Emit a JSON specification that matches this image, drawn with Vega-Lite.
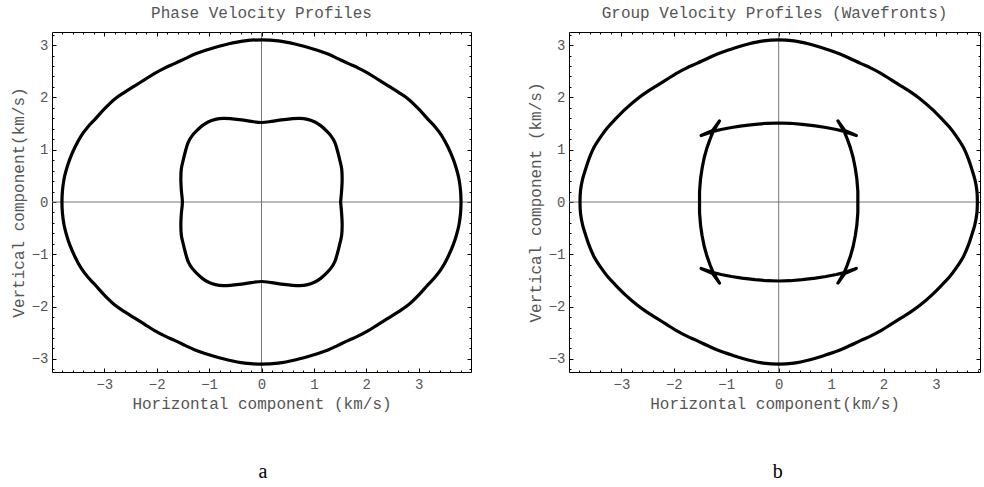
{
  "$schema": "https://vega.github.io/schema/vega-lite/v6.json",
  "padding": {"left": 9, "top": 4, "right": 0, "bottom": 0},
  "background": "white",
  "config": {
    "font": "Liberation Mono",
    "view": {"stroke": "black", "strokeWidth": 1},
    "axis": {"labelFont": "Liberation Mono", "labelFontSize": 14, "labelColor": "#555", "titleFont": "Liberation Mono", "titleFontSize": 16, "titleColor": "#555", "titleFontWeight": "normal", "tickColor": "black", "grid": false, "domain": false, "labelOverlap": false},
    "title": {"font": "Liberation Mono", "fontSize": 16, "fontWeight": "normal", "color": "#555"},
    "concat": {"spacing": 54}
  },
  "datasets": {
    "phase": [
      {"c":"outer","x":3.81,"y":0},{"c":"outer","x":3.80,"y":0.22},{"c":"outer","x":3.77,"y":0.44},{"c":"outer","x":3.72,"y":0.64},{"c":"outer","x":3.66,"y":0.82},{"c":"outer","x":3.56,"y":1.05},{"c":"outer","x":3.44,"y":1.27},{"c":"outer","x":3.32,"y":1.43},{"c":"outer","x":3.18,"y":1.58},{"c":"outer","x":3.00,"y":1.78},{"c":"outer","x":2.80,"y":1.97},{"c":"outer","x":2.61,"y":2.10},{"c":"outer","x":2.42,"y":2.22},{"c":"outer","x":2.23,"y":2.34},{"c":"outer","x":2.04,"y":2.46},{"c":"outer","x":1.85,"y":2.56},{"c":"outer","x":1.65,"y":2.65},{"c":"outer","x":1.46,"y":2.74},{"c":"outer","x":1.27,"y":2.83},{"c":"outer","x":0.97,"y":2.93},{"c":"outer","x":0.64,"y":3.02},{"c":"outer","x":0.32,"y":3.08},{"c":"outer","x":0,"y":3.10},
      {"c":"outer","x":-0.32,"y":3.08},{"c":"outer","x":-0.64,"y":3.02},{"c":"outer","x":-0.97,"y":2.93},{"c":"outer","x":-1.27,"y":2.83},{"c":"outer","x":-1.46,"y":2.74},{"c":"outer","x":-1.65,"y":2.65},{"c":"outer","x":-1.85,"y":2.56},{"c":"outer","x":-2.04,"y":2.46},{"c":"outer","x":-2.23,"y":2.34},{"c":"outer","x":-2.42,"y":2.22},{"c":"outer","x":-2.61,"y":2.10},{"c":"outer","x":-2.80,"y":1.97},{"c":"outer","x":-3.00,"y":1.78},{"c":"outer","x":-3.18,"y":1.58},{"c":"outer","x":-3.32,"y":1.43},{"c":"outer","x":-3.44,"y":1.27},{"c":"outer","x":-3.56,"y":1.05},{"c":"outer","x":-3.66,"y":0.82},{"c":"outer","x":-3.72,"y":0.64},{"c":"outer","x":-3.77,"y":0.44},{"c":"outer","x":-3.80,"y":0.22},{"c":"outer","x":-3.81,"y":0},
      {"c":"outer","x":-3.80,"y":-0.22},{"c":"outer","x":-3.77,"y":-0.44},{"c":"outer","x":-3.72,"y":-0.64},{"c":"outer","x":-3.66,"y":-0.82},{"c":"outer","x":-3.56,"y":-1.05},{"c":"outer","x":-3.44,"y":-1.27},{"c":"outer","x":-3.32,"y":-1.43},{"c":"outer","x":-3.18,"y":-1.58},{"c":"outer","x":-3.00,"y":-1.78},{"c":"outer","x":-2.80,"y":-1.97},{"c":"outer","x":-2.61,"y":-2.10},{"c":"outer","x":-2.42,"y":-2.22},{"c":"outer","x":-2.23,"y":-2.34},{"c":"outer","x":-2.04,"y":-2.46},{"c":"outer","x":-1.85,"y":-2.56},{"c":"outer","x":-1.65,"y":-2.65},{"c":"outer","x":-1.46,"y":-2.74},{"c":"outer","x":-1.27,"y":-2.83},{"c":"outer","x":-0.97,"y":-2.93},{"c":"outer","x":-0.64,"y":-3.02},{"c":"outer","x":-0.32,"y":-3.08},{"c":"outer","x":0,"y":-3.10},
      {"c":"outer","x":0.32,"y":-3.08},{"c":"outer","x":0.64,"y":-3.02},{"c":"outer","x":0.97,"y":-2.93},{"c":"outer","x":1.27,"y":-2.83},{"c":"outer","x":1.46,"y":-2.74},{"c":"outer","x":1.65,"y":-2.65},{"c":"outer","x":1.85,"y":-2.56},{"c":"outer","x":2.04,"y":-2.46},{"c":"outer","x":2.23,"y":-2.34},{"c":"outer","x":2.42,"y":-2.22},{"c":"outer","x":2.61,"y":-2.10},{"c":"outer","x":2.80,"y":-1.97},{"c":"outer","x":3.00,"y":-1.78},{"c":"outer","x":3.18,"y":-1.58},{"c":"outer","x":3.32,"y":-1.43},{"c":"outer","x":3.44,"y":-1.27},{"c":"outer","x":3.56,"y":-1.05},{"c":"outer","x":3.66,"y":-0.82},{"c":"outer","x":3.72,"y":-0.64},{"c":"outer","x":3.77,"y":-0.44},{"c":"outer","x":3.80,"y":-0.22},{"c":"outer","x":3.81,"y":0},
      {"c":"inner","x":1.51,"y":0},{"c":"inner","x":1.53,"y":0.22},{"c":"inner","x":1.54,"y":0.44},{"c":"inner","x":1.53,"y":0.64},{"c":"inner","x":1.49,"y":0.82},{"c":"inner","x":1.45,"y":0.98},{"c":"inner","x":1.40,"y":1.14},{"c":"inner","x":1.33,"y":1.26},{"c":"inner","x":1.24,"y":1.36},{"c":"inner","x":1.13,"y":1.46},{"c":"inner","x":1.02,"y":1.53},{"c":"inner","x":0.88,"y":1.58},{"c":"inner","x":0.73,"y":1.60},{"c":"inner","x":0.56,"y":1.59},{"c":"inner","x":0.38,"y":1.57},{"c":"inner","x":0.19,"y":1.54},{"c":"inner","x":0,"y":1.52},
      {"c":"inner","x":-0.19,"y":1.54},{"c":"inner","x":-0.38,"y":1.57},{"c":"inner","x":-0.56,"y":1.59},{"c":"inner","x":-0.73,"y":1.60},{"c":"inner","x":-0.88,"y":1.58},{"c":"inner","x":-1.02,"y":1.53},{"c":"inner","x":-1.13,"y":1.46},{"c":"inner","x":-1.24,"y":1.36},{"c":"inner","x":-1.33,"y":1.26},{"c":"inner","x":-1.40,"y":1.14},{"c":"inner","x":-1.45,"y":0.98},{"c":"inner","x":-1.49,"y":0.82},{"c":"inner","x":-1.53,"y":0.64},{"c":"inner","x":-1.54,"y":0.44},{"c":"inner","x":-1.53,"y":0.22},{"c":"inner","x":-1.51,"y":0},
      {"c":"inner","x":-1.53,"y":-0.22},{"c":"inner","x":-1.54,"y":-0.44},{"c":"inner","x":-1.53,"y":-0.64},{"c":"inner","x":-1.49,"y":-0.82},{"c":"inner","x":-1.45,"y":-0.98},{"c":"inner","x":-1.40,"y":-1.14},{"c":"inner","x":-1.33,"y":-1.26},{"c":"inner","x":-1.24,"y":-1.36},{"c":"inner","x":-1.13,"y":-1.46},{"c":"inner","x":-1.02,"y":-1.53},{"c":"inner","x":-0.88,"y":-1.58},{"c":"inner","x":-0.73,"y":-1.60},{"c":"inner","x":-0.56,"y":-1.59},{"c":"inner","x":-0.38,"y":-1.57},{"c":"inner","x":-0.19,"y":-1.54},{"c":"inner","x":0,"y":-1.52},
      {"c":"inner","x":0.19,"y":-1.54},{"c":"inner","x":0.38,"y":-1.57},{"c":"inner","x":0.56,"y":-1.59},{"c":"inner","x":0.73,"y":-1.60},{"c":"inner","x":0.88,"y":-1.58},{"c":"inner","x":1.02,"y":-1.53},{"c":"inner","x":1.13,"y":-1.46},{"c":"inner","x":1.24,"y":-1.36},{"c":"inner","x":1.33,"y":-1.26},{"c":"inner","x":1.40,"y":-1.14},{"c":"inner","x":1.45,"y":-0.98},{"c":"inner","x":1.49,"y":-0.82},{"c":"inner","x":1.53,"y":-0.64},{"c":"inner","x":1.54,"y":-0.44},{"c":"inner","x":1.53,"y":-0.22},{"c":"inner","x":1.51,"y":0}
    ],
    "group": [
      {"c":"outer","x":3.79,"y":0},{"c":"outer","x":3.78,"y":0.22},{"c":"outer","x":3.74,"y":0.44},{"c":"outer","x":3.68,"y":0.64},{"c":"outer","x":3.62,"y":0.82},{"c":"outer","x":3.52,"y":1.05},{"c":"outer","x":3.38,"y":1.27},{"c":"outer","x":3.26,"y":1.43},{"c":"outer","x":3.12,"y":1.58},{"c":"outer","x":2.92,"y":1.78},{"c":"outer","x":2.70,"y":1.97},{"c":"outer","x":2.52,"y":2.10},{"c":"outer","x":2.33,"y":2.22},{"c":"outer","x":2.14,"y":2.34},{"c":"outer","x":1.95,"y":2.46},{"c":"outer","x":1.76,"y":2.56},{"c":"outer","x":1.56,"y":2.65},{"c":"outer","x":1.37,"y":2.74},{"c":"outer","x":1.17,"y":2.83},{"c":"outer","x":0.88,"y":2.93},{"c":"outer","x":0.58,"y":3.02},{"c":"outer","x":0.29,"y":3.08},{"c":"outer","x":0,"y":3.10},
      {"c":"outer","x":-0.29,"y":3.08},{"c":"outer","x":-0.58,"y":3.02},{"c":"outer","x":-0.88,"y":2.93},{"c":"outer","x":-1.17,"y":2.83},{"c":"outer","x":-1.37,"y":2.74},{"c":"outer","x":-1.56,"y":2.65},{"c":"outer","x":-1.76,"y":2.56},{"c":"outer","x":-1.95,"y":2.46},{"c":"outer","x":-2.14,"y":2.34},{"c":"outer","x":-2.33,"y":2.22},{"c":"outer","x":-2.52,"y":2.10},{"c":"outer","x":-2.70,"y":1.97},{"c":"outer","x":-2.92,"y":1.78},{"c":"outer","x":-3.12,"y":1.58},{"c":"outer","x":-3.26,"y":1.43},{"c":"outer","x":-3.38,"y":1.27},{"c":"outer","x":-3.52,"y":1.05},{"c":"outer","x":-3.62,"y":0.82},{"c":"outer","x":-3.68,"y":0.64},{"c":"outer","x":-3.74,"y":0.44},{"c":"outer","x":-3.78,"y":0.22},{"c":"outer","x":-3.79,"y":0},
      {"c":"outer","x":-3.78,"y":-0.22},{"c":"outer","x":-3.74,"y":-0.44},{"c":"outer","x":-3.68,"y":-0.64},{"c":"outer","x":-3.62,"y":-0.82},{"c":"outer","x":-3.52,"y":-1.05},{"c":"outer","x":-3.38,"y":-1.27},{"c":"outer","x":-3.26,"y":-1.43},{"c":"outer","x":-3.12,"y":-1.58},{"c":"outer","x":-2.92,"y":-1.78},{"c":"outer","x":-2.70,"y":-1.97},{"c":"outer","x":-2.52,"y":-2.10},{"c":"outer","x":-2.33,"y":-2.22},{"c":"outer","x":-2.14,"y":-2.34},{"c":"outer","x":-1.95,"y":-2.46},{"c":"outer","x":-1.76,"y":-2.56},{"c":"outer","x":-1.56,"y":-2.65},{"c":"outer","x":-1.37,"y":-2.74},{"c":"outer","x":-1.17,"y":-2.83},{"c":"outer","x":-0.88,"y":-2.93},{"c":"outer","x":-0.58,"y":-3.02},{"c":"outer","x":-0.29,"y":-3.08},{"c":"outer","x":0,"y":-3.10},
      {"c":"outer","x":0.29,"y":-3.08},{"c":"outer","x":0.58,"y":-3.02},{"c":"outer","x":0.88,"y":-2.93},{"c":"outer","x":1.17,"y":-2.83},{"c":"outer","x":1.37,"y":-2.74},{"c":"outer","x":1.56,"y":-2.65},{"c":"outer","x":1.76,"y":-2.56},{"c":"outer","x":1.95,"y":-2.46},{"c":"outer","x":2.14,"y":-2.34},{"c":"outer","x":2.33,"y":-2.22},{"c":"outer","x":2.52,"y":-2.10},{"c":"outer","x":2.70,"y":-1.97},{"c":"outer","x":2.92,"y":-1.78},{"c":"outer","x":3.12,"y":-1.58},{"c":"outer","x":3.26,"y":-1.43},{"c":"outer","x":3.38,"y":-1.27},{"c":"outer","x":3.52,"y":-1.05},{"c":"outer","x":3.62,"y":-0.82},{"c":"outer","x":3.68,"y":-0.64},{"c":"outer","x":3.74,"y":-0.44},{"c":"outer","x":3.78,"y":-0.22},{"c":"outer","x":3.79,"y":0},
      {"c":"inner","x":1.51,"y":0},{"c":"inner","x":1.51,"y":0.2},{"c":"inner","x":1.49,"y":0.45},{"c":"inner","x":1.46,"y":0.65},{"c":"inner","x":1.42,"y":0.85},{"c":"inner","x":1.37,"y":1.03},{"c":"inner","x":1.31,"y":1.2},{"c":"inner","x":1.25,"y":1.35},{"c":"inner","x":1.13,"y":1.55},{"c":"inner","x":1.26,"y":1.37},{"c":"inner","x":1.48,"y":1.27},{"c":"inner","x":1.25,"y":1.35},{"c":"inner","x":1.1,"y":1.385},{"c":"inner","x":0.9,"y":1.425},{"c":"inner","x":0.7,"y":1.455},{"c":"inner","x":0.45,"y":1.485},{"c":"inner","x":0.22,"y":1.505},{"c":"inner","x":0,"y":1.51},
      {"c":"inner","x":-0.22,"y":1.505},{"c":"inner","x":-0.45,"y":1.485},{"c":"inner","x":-0.7,"y":1.455},{"c":"inner","x":-0.9,"y":1.425},{"c":"inner","x":-1.1,"y":1.385},{"c":"inner","x":-1.25,"y":1.35},{"c":"inner","x":-1.48,"y":1.27},{"c":"inner","x":-1.26,"y":1.37},{"c":"inner","x":-1.13,"y":1.55},{"c":"inner","x":-1.25,"y":1.35},{"c":"inner","x":-1.31,"y":1.2},{"c":"inner","x":-1.37,"y":1.03},{"c":"inner","x":-1.42,"y":0.85},{"c":"inner","x":-1.46,"y":0.65},{"c":"inner","x":-1.49,"y":0.45},{"c":"inner","x":-1.51,"y":0.2},{"c":"inner","x":-1.51,"y":0},
      {"c":"inner","x":-1.51,"y":-0.2},{"c":"inner","x":-1.49,"y":-0.45},{"c":"inner","x":-1.46,"y":-0.65},{"c":"inner","x":-1.42,"y":-0.85},{"c":"inner","x":-1.37,"y":-1.03},{"c":"inner","x":-1.31,"y":-1.2},{"c":"inner","x":-1.25,"y":-1.35},{"c":"inner","x":-1.13,"y":-1.55},{"c":"inner","x":-1.26,"y":-1.37},{"c":"inner","x":-1.48,"y":-1.27},{"c":"inner","x":-1.25,"y":-1.35},{"c":"inner","x":-1.1,"y":-1.385},{"c":"inner","x":-0.9,"y":-1.425},{"c":"inner","x":-0.7,"y":-1.455},{"c":"inner","x":-0.45,"y":-1.485},{"c":"inner","x":-0.22,"y":-1.505},{"c":"inner","x":0,"y":-1.51},
      {"c":"inner","x":0.22,"y":-1.505},{"c":"inner","x":0.45,"y":-1.485},{"c":"inner","x":0.7,"y":-1.455},{"c":"inner","x":0.9,"y":-1.425},{"c":"inner","x":1.1,"y":-1.385},{"c":"inner","x":1.25,"y":-1.35},{"c":"inner","x":1.48,"y":-1.27},{"c":"inner","x":1.26,"y":-1.37},{"c":"inner","x":1.13,"y":-1.55},{"c":"inner","x":1.25,"y":-1.35},{"c":"inner","x":1.31,"y":-1.2},{"c":"inner","x":1.37,"y":-1.03},{"c":"inner","x":1.42,"y":-0.85},{"c":"inner","x":1.46,"y":-0.65},{"c":"inner","x":1.49,"y":-0.45},{"c":"inner","x":1.51,"y":-0.2},{"c":"inner","x":1.51,"y":0}
    ]
  },
  "hconcat": [
    {
      "title": {"text": "a", "orient": "bottom", "anchor": "middle", "font": "Liberation Serif", "fontSize": 20, "color": "black", "offset": 50, "dx": 22},
      "vconcat": [
        {
          "title": {"text": "Phase Velocity Profiles", "offset": 7},
          "width": 419,
          "height": 340,
          "resolve": {"axis": {"x": "independent", "y": "independent"}},
          "layer": [
            {
              "data": {"values": [{}]},
              "mark": {"type": "rule", "color": "#777", "strokeWidth": 1},
              "encoding": {
                "x": {"datum": 0, "type": "quantitative", "scale": {"domain": [-4, 4], "nice": false, "zero": false}, "axis": {"orient": "top", "title": null, "labels": false, "values": [-3.8,-3.6,-3.4,-3.2,-3,-2.8,-2.6,-2.4,-2.2,-2,-1.8,-1.6,-1.4,-1.2,-1,-0.8,-0.6,-0.4,-0.2,0,0.2,0.4,0.6,0.8,1,1.2,1.4,1.6,1.8,2,2.2,2.4,2.6,2.8,3,3.2,3.4,3.6,3.8], "tickSize": {"condition": {"test": "datum.value % 1 === 0", "value": -4}, "value": -2}}},
                "y": {"datum": -3.25, "type": "quantitative", "scale": {"domain": [-3.25, 3.25], "nice": false, "zero": false}, "axis": {"orient": "right", "title": null, "labels": false, "values": [-3.2,-3,-2.8,-2.6,-2.4,-2.2,-2,-1.8,-1.6,-1.4,-1.2,-1,-0.8,-0.6,-0.4,-0.2,0,0.2,0.4,0.6,0.8,1,1.2,1.4,1.6,1.8,2,2.2,2.4,2.6,2.8,3,3.2], "tickSize": {"condition": {"test": "datum.value % 1 === 0", "value": -4}, "value": -2}}},
                "y2": {"datum": 3.25}
              }
            },
            {
              "data": {"values": [{}]},
              "mark": {"type": "rule", "color": "#777", "strokeWidth": 1},
              "encoding": {
                "y": {"datum": 0, "type": "quantitative", "axis": null},
                "x": {"datum": -4, "type": "quantitative", "axis": null},
                "x2": {"datum": 4}
              }
            },
            {
              "data": {"name": "phase"},
              "mark": {"type": "line", "color": "black", "strokeWidth": 3.2, "interpolate": "catmull-rom", "strokeJoin": "round", "strokeCap": "round"},
              "encoding": {
                "x": {"field": "x", "type": "quantitative", "axis": {"orient": "bottom", "title": "Horizontal component (km/s)", "values": [-3.8,-3.6,-3.4,-3.2,-3,-2.8,-2.6,-2.4,-2.2,-2,-1.8,-1.6,-1.4,-1.2,-1,-0.8,-0.6,-0.4,-0.2,0,0.2,0.4,0.6,0.8,1,1.2,1.4,1.6,1.8,2,2.2,2.4,2.6,2.8,3,3.2,3.4,3.6,3.8], "labelExpr": "datum.value % 1 === 0 ? format(datum.value, 'd') : ''", "tickSize": {"condition": {"test": "datum.value % 1 === 0", "value": -4}, "value": -2}, "labelPadding": 9, "titlePadding": 2}},
                "y": {"field": "y", "type": "quantitative", "axis": {"orient": "left", "title": "Vertical component(km/s)", "values": [-3.2,-3,-2.8,-2.6,-2.4,-2.2,-2,-1.8,-1.6,-1.4,-1.2,-1,-0.8,-0.6,-0.4,-0.2,0,0.2,0.4,0.6,0.8,1,1.2,1.4,1.6,1.8,2,2.2,2.4,2.6,2.8,3,3.2], "labelExpr": "datum.value % 1 === 0 ? format(datum.value, 'd') : ''", "tickSize": {"condition": {"test": "datum.value % 1 === 0", "value": -4}, "value": -2}, "labelPadding": 8, "titlePadding": 5}},
                "detail": {"field": "c"},
                "order": {"value": null}
              }
            }
          ]
        }
      ]
    },
    {
      "title": {"text": "b", "orient": "bottom", "anchor": "middle", "font": "Liberation Serif", "fontSize": 20, "color": "black", "offset": 50, "dx": 24},
      "vconcat": [
        {
          "title": {"text": "Group Velocity Profiles (Wavefronts)", "offset": 7},
          "width": 411,
          "height": 340,
          "resolve": {"axis": {"x": "independent", "y": "independent"}},
          "layer": [
            {
              "data": {"values": [{}]},
              "mark": {"type": "rule", "color": "#777", "strokeWidth": 1},
              "encoding": {
                "x": {"datum": 0, "type": "quantitative", "scale": {"domain": [-4, 3.84], "nice": false, "zero": false}, "axis": {"orient": "top", "title": null, "labels": false, "values": [-3.8,-3.6,-3.4,-3.2,-3,-2.8,-2.6,-2.4,-2.2,-2,-1.8,-1.6,-1.4,-1.2,-1,-0.8,-0.6,-0.4,-0.2,0,0.2,0.4,0.6,0.8,1,1.2,1.4,1.6,1.8,2,2.2,2.4,2.6,2.8,3,3.2,3.4,3.6,3.8], "tickSize": {"condition": {"test": "datum.value % 1 === 0", "value": -4}, "value": -2}}},
                "y": {"datum": -3.25, "type": "quantitative", "scale": {"domain": [-3.25, 3.25], "nice": false, "zero": false}, "axis": {"orient": "right", "title": null, "labels": false, "values": [-3.2,-3,-2.8,-2.6,-2.4,-2.2,-2,-1.8,-1.6,-1.4,-1.2,-1,-0.8,-0.6,-0.4,-0.2,0,0.2,0.4,0.6,0.8,1,1.2,1.4,1.6,1.8,2,2.2,2.4,2.6,2.8,3,3.2], "tickSize": {"condition": {"test": "datum.value % 1 === 0", "value": -4}, "value": -2}}},
                "y2": {"datum": 3.25}
              }
            },
            {
              "data": {"values": [{}]},
              "mark": {"type": "rule", "color": "#777", "strokeWidth": 1},
              "encoding": {
                "y": {"datum": 0, "type": "quantitative", "axis": null},
                "x": {"datum": -4, "type": "quantitative", "axis": null},
                "x2": {"datum": 3.84}
              }
            },
            {
              "data": {"name": "group"},
              "transform": [{"filter": "datum.c == 'outer'"}],
              "mark": {"type": "line", "color": "black", "strokeWidth": 3.2, "interpolate": "catmull-rom", "strokeJoin": "round", "strokeCap": "round"},
              "encoding": {
                "x": {"field": "x", "type": "quantitative", "axis": {"orient": "bottom", "title": "Horizontal component(km/s)", "values": [-3.8,-3.6,-3.4,-3.2,-3,-2.8,-2.6,-2.4,-2.2,-2,-1.8,-1.6,-1.4,-1.2,-1,-0.8,-0.6,-0.4,-0.2,0,0.2,0.4,0.6,0.8,1,1.2,1.4,1.6,1.8,2,2.2,2.4,2.6,2.8,3,3.2,3.4,3.6,3.8], "labelExpr": "datum.value % 1 === 0 ? format(datum.value, 'd') : ''", "tickSize": {"condition": {"test": "datum.value % 1 === 0", "value": -4}, "value": -2}, "labelPadding": 9, "titlePadding": 2}},
                "y": {"field": "y", "type": "quantitative", "axis": {"orient": "left", "title": "Vertical component (km/s)", "values": [-3.2,-3,-2.8,-2.6,-2.4,-2.2,-2,-1.8,-1.6,-1.4,-1.2,-1,-0.8,-0.6,-0.4,-0.2,0,0.2,0.4,0.6,0.8,1,1.2,1.4,1.6,1.8,2,2.2,2.4,2.6,2.8,3,3.2], "labelExpr": "datum.value % 1 === 0 ? format(datum.value, 'd') : ''", "tickSize": {"condition": {"test": "datum.value % 1 === 0", "value": -4}, "value": -2}, "labelPadding": 8, "titlePadding": 5}},
                "detail": {"field": "c"},
                "order": {"value": null}
              }
            },
            {
              "data": {"name": "group"},
              "transform": [{"filter": "datum.c == 'inner'"}],
              "mark": {"type": "line", "color": "black", "strokeWidth": 3.2, "interpolate": "linear", "strokeJoin": "round", "strokeCap": "round"},
              "encoding": {
                "x": {"field": "x", "type": "quantitative", "axis": null},
                "y": {"field": "y", "type": "quantitative", "axis": null},
                "detail": {"field": "c"},
                "order": {"value": null}
              }
            }
          ]
        }
      ]
    }
  ]
}
